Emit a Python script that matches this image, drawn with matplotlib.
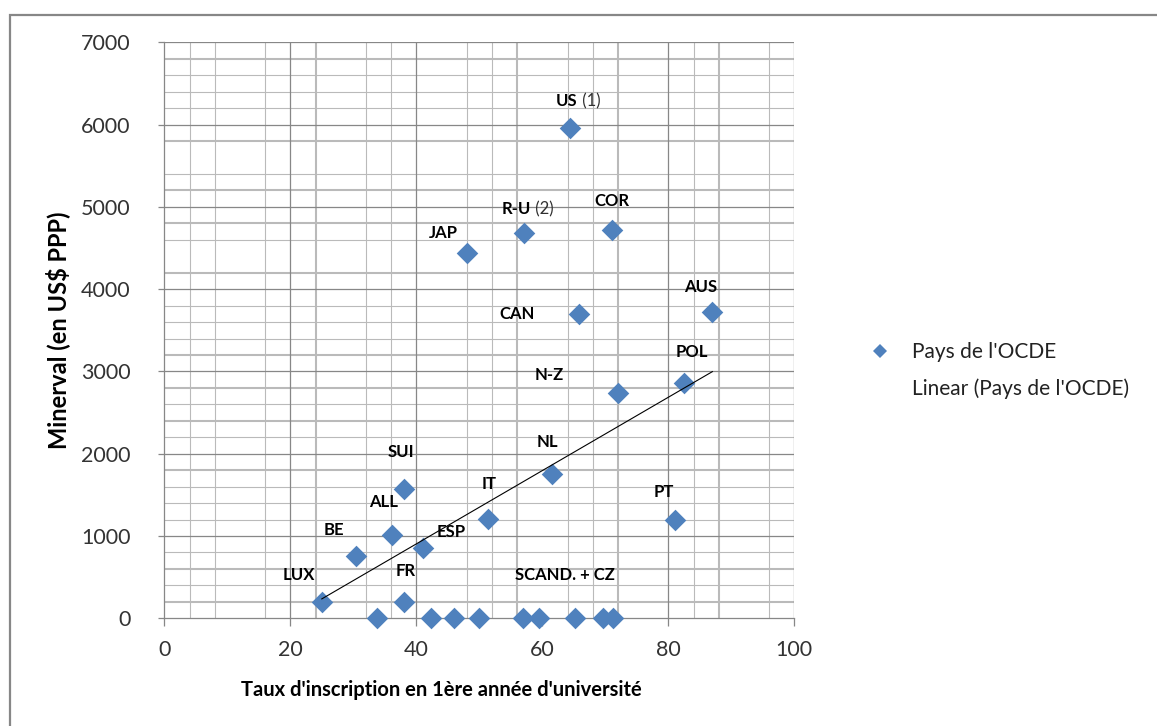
"""Minerval vs taux d'inscription en 1ère année d'université (pays de l'OCDE).

Excel-style scatter: blue diamonds, linear trend line, bold country tags and
the irregular worksheet grid showing through the transparent plot area.
"""
import matplotlib
matplotlib.use('Agg')
import matplotlib.pyplot as plt
import numpy as np
from matplotlib.lines import Line2D
from matplotlib.patches import Rectangle

# ---------------------------------------------------------------------------
# Data
# ---------------------------------------------------------------------------
countries = ['US', 'R-U', 'COR', 'JAP', 'CAN', 'AUS', 'N-Z', 'POL', 'NL',
             'IT', 'PT', 'SUI', 'ALL', 'BE', 'ESP', 'LUX', 'FR']
notes = {'US': ' (1)', 'R-U': ' (2)'}
enrolment = [64.4, 57.1, 71.1, 48.1, 65.9, 87.0, 72.0, 82.5, 61.6,
             51.4, 81.0, 38.0, 36.1, 30.5, 41.1, 25.0, 38.0]
fees = [5955, 4680, 4720, 4445, 3695, 3725, 2735, 2855, 1755,
        1205, 1195, 1570, 1010, 757, 858, 200, 200]

# Scandinavia + Czech Republic: no tuition fee
free_label = 'SCAND. + CZ'
free_enrolment = [33.7, 42.4, 46.0, 49.9, 56.9, 59.4, 65.2, 69.7, 71.3]
free_fees = [0, 0, 0, 0, 0, 0, 0, 0, 0]

series_label = "Pays de l'OCDE"
trend_label = "Linear (Pays de l'OCDE)"
xlabel = "Taux d'inscription en 1ère année d'université"
ylabel = 'Minerval (en US$ PPP)'

# ---------------------------------------------------------------------------
# Style
# ---------------------------------------------------------------------------
W, H = 1157, 726
BLUE = '#4F81BD'
MAJOR = '#878787'
MINOR = '#BABABA'
FONT = 'Lato'

# tag offsets (pixels) from the point; US / R-U anchored on left edge
tag_offset = {
    'US': (-14, 27), 'R-U': (-22, 24), 'COR': (0, 29), 'JAP': (-24, 20),
    'CAN': (-62, 0), 'AUS': (-12, 25), 'N-Z': (-69, 18), 'POL': (8, 31),
    'NL': (-5, 32), 'IT': (1, 35), 'PT': (-11, 28), 'SUI': (-3, 37),
    'ALL': (-8, 33), 'BE': (-23, 26), 'ESP': (28, 16), 'LUX': (-23, 27),
    'FR': (2, 31),
}
free_offset = (42, 43)  # relative to the 5th zero point

# worksheet cell lines seen through the plot area (thin, thick)
grid_x_thin = [4, 8, 16, 32, 36, 48, 52, 64, 68, 84, 96]
grid_x_thick = [24, 56, 72, 88]
grid_y_thin = [400, 800, 1200, 1400, 1600, 2200, 2600, 3400, 3600, 3800,
               4600, 5400, 6200, 6400, 6600]
grid_y_thick = [200, 600, 1800, 2400, 2800, 3200, 4200, 4800, 5200, 5800,
                6800]
grid_x_major = [20, 40, 80, 100]
grid_y_major = [1000, 2000, 3000, 4000, 5000, 6000, 7000]


def px_box(left, top, right, bottom):
    return [left / W, 1 - bottom / H, (right - left) / W, (bottom - top) / H]


fig = plt.figure(figsize=(W / 100, H / 100), dpi=100)
ax = fig.add_axes(px_box(164.3, 42.3, 794.3, 618.3))

# chart-area border (only top/left edges fall inside the crop)
fig.patches.append(Rectangle((10 / W, -0.2), 1.5, 1.2 - 15 / H,
                             transform=fig.transFigure, fill=False,
                             edgecolor=MAJOR, lw=1.6, clip_on=False))

for x in grid_x_thin:
    ax.axvline(x, color=MINOR, lw=0.8, zorder=0)
for x in grid_x_thick:
    ax.axvline(x, color=MINOR, lw=1.5, zorder=0)
for y in grid_y_thin:
    ax.axhline(y, color=MINOR, lw=0.8, zorder=0)
for y in grid_y_thick:
    ax.axhline(y, color=MINOR, lw=1.5, zorder=0)
for x in grid_x_major:
    ax.axvline(x, color=MAJOR, lw=0.9, zorder=0.5)
for y in grid_y_major:
    ax.axhline(y, color=MAJOR, lw=0.9, zorder=0.5)

all_x = np.array(enrolment + free_enrolment)
all_y = np.array(fees + free_fees)
ax.scatter(all_x, all_y, marker='D', s=11 ** 2, color=BLUE, lw=0,
           zorder=3, clip_on=False)

coef = np.polyfit(all_x, all_y, 1)
xs = np.array([all_x[all_y > 0].min(), all_x.max()])
ax.plot(xs, np.polyval(coef, xs), color='black', lw=0.8, zorder=4)

for name, x, y in zip(countries, enrolment, fees):
    dx, dy = tag_offset[name]
    if name in notes:
        t = ax.annotate(name, (x, y), xytext=(dx, dy),
                        textcoords='offset pixels', ha='left', va='center',
                        fontsize=12, fontweight='bold', family=FONT, zorder=5)
        ax.annotate(notes[name], xy=(1, 0.5), xycoords=t, ha='left',
                    va='center', fontsize=12, family=FONT, color='#303030',
                    zorder=5)
    else:
        ax.annotate(name, (x, y), xytext=(dx, dy),
                    textcoords='offset pixels', ha='center', va='center',
                    fontsize=12, fontweight='bold', family=FONT, zorder=5)
ax.annotate(free_label, (free_enrolment[4], free_fees[4]),
            xytext=free_offset, textcoords='offset pixels', ha='center',
            va='center', fontsize=12, fontweight='bold', family=FONT,
            zorder=5)

ax.set_xlim(0, 100)
ax.set_ylim(0, 7000)
ax.set_xticks(range(0, 101, 20))
ax.set_yticks(range(0, 7001, 1000))
for side in ('top', 'right'):
    ax.spines[side].set_visible(False)
for side in ('left', 'bottom'):
    ax.spines[side].set_color(MAJOR)
    ax.spines[side].set_linewidth(0.9)
ax.tick_params(axis='y', length=4.3, width=0.9, color=MAJOR, pad=20,
               labelsize=15.5, labelcolor='#333333')
ax.tick_params(axis='x', length=5.8, width=0.9, color=MAJOR, pad=10,
               labelsize=15.5, labelcolor='#333333')
for lbl in ax.get_xticklabels() + ax.get_yticklabels():
    lbl.set_family(FONT)

ax.set_xlabel(xlabel, fontsize=14.5, fontweight='bold', family=FONT)
ax.xaxis.set_label_coords((441 - 164.3) / 630, -(690 - 618.3) / 576)
ax.xaxis.label.set_va('center')
ax.set_ylabel(ylabel, fontsize=17, fontweight='bold', family=FONT)
ax.yaxis.set_label_coords((58 - 164.3) / 630, 0.5)
ax.yaxis.label.set_va('center')

handles = [Line2D([], [], marker='D', ls='none', color=BLUE, ms=7.5, mew=0),
           Line2D([], [], ls='none')]
fig.legend(handles, [series_label, trend_label], loc='upper left',
           bbox_to_anchor=(869.6 / W, 1 - 342 / H), frameon=False,
           prop={'family': FONT, 'size': 15}, handlelength=1.0,
           handletextpad=1.04, labelspacing=0.78, borderpad=0,
           borderaxespad=0, labelcolor='#222222')

fig.savefig('out.png', dpi=100)
